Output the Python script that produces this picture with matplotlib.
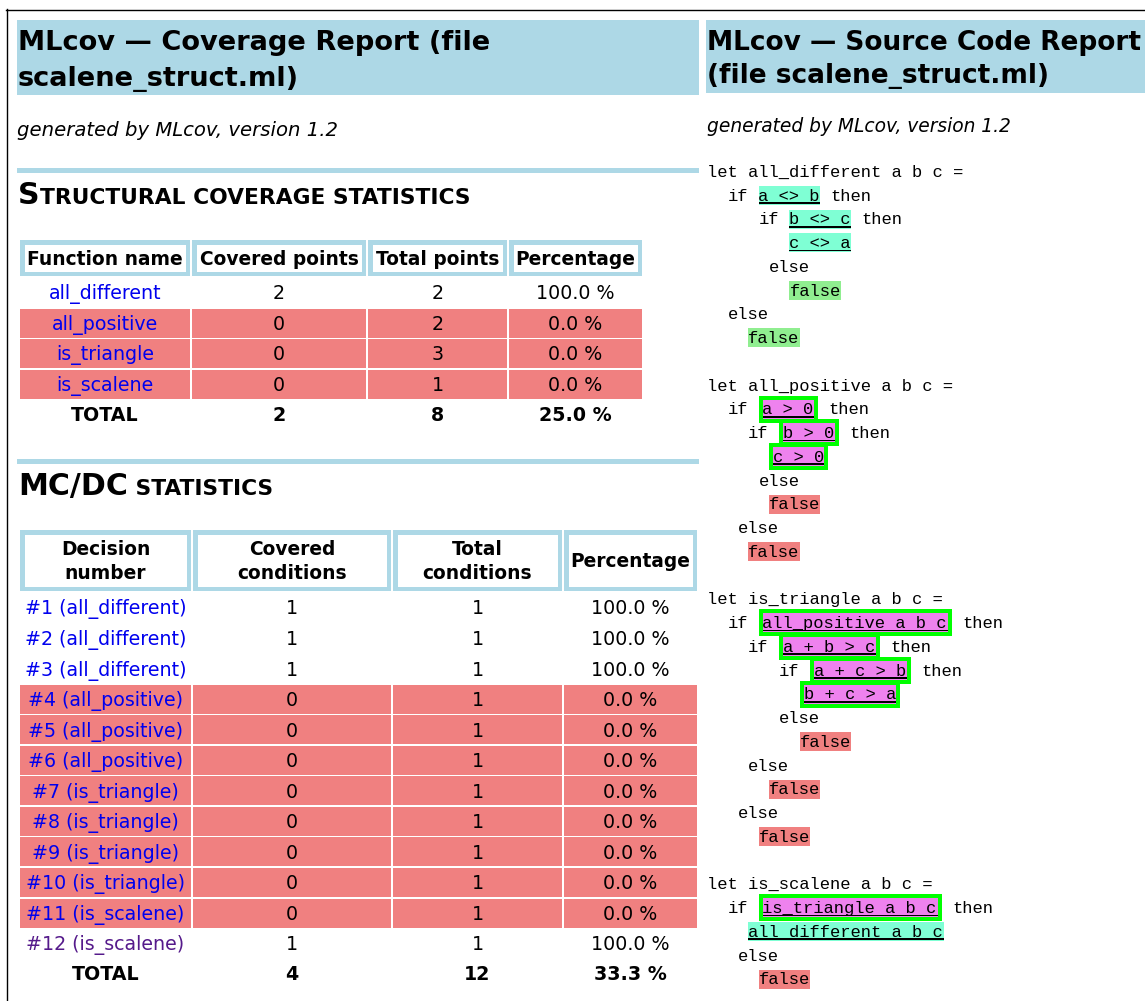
"""
MLcov coverage report page, redrawn with matplotlib (pixel coordinates).
"""

import matplotlib
matplotlib.use("Agg")
import matplotlib.pyplot as plt
from matplotlib.patches import Rectangle

# ---------------- data ----------------
func_names = ["all_different", "all_positive", "is_triangle", "is_scalene"]
covered_points = [2, 0, 0, 0]
total_points = [2, 2, 3, 1]
pct_points = [100.0, 0.0, 0.0, 0.0]
points_total = ["TOTAL", 2, 8, 25.0]

decision_labels = ["#1 (all_different)", "#2 (all_different)", "#3 (all_different)",
                   "#4 (all_positive)", "#5 (all_positive)", "#6 (all_positive)",
                   "#7 (is_triangle)", "#8 (is_triangle)", "#9 (is_triangle)",
                   "#10 (is_triangle)", "#11 (is_scalene)", "#12 (is_scalene)"]
covered_conditions = [1, 1, 1, 0, 0, 0, 0, 0, 0, 0, 0, 1]
total_conditions = [1, 1, 1, 1, 1, 1, 1, 1, 1, 1, 1, 1]
pct_conditions = [100.0, 100.0, 100.0, 0.0, 0.0, 0.0, 0.0, 0.0, 0.0, 0.0, 0.0, 100.0]
visited_links = [False] * 11 + [True]
conditions_total = ["TOTAL", 4, 12, 33.3]

t1_headers = [["Function name"], ["Covered points"], ["Total points"], ["Percentage"]]
t2_headers = [["Decision", "number"], ["Covered", "conditions"],
              ["Total", "conditions"], ["Percentage"]]

# source listing: (text, highlight kind)
code_lines = [
    [("let all_different a b c =", None)],
    [("  if ", None), ("a <> b", "aqua"), (" then", None)],
    [("     if ", None), ("b <> c", "aqua"), (" then", None)],
    [("        ", None), ("c <> a", "aqua")],
    [("      else", None)],
    [("        ", None), ("false", "green")],
    [("  else", None)],
    [("    ", None), ("false", "green")],
    [],
    [("let all_positive a b c =", None)],
    [("  if ", None), ("a > 0", "box"), (" then", None)],
    [("    if ", None), ("b > 0", "box"), (" then", None)],
    [("      ", None), ("c > 0", "box")],
    [("     else", None)],
    [("      ", None), ("false", "red")],
    [("   else", None)],
    [("    ", None), ("false", "red")],
    [],
    [("let is_triangle a b c =", None)],
    [("  if ", None), ("all_positive a b c", "box"), (" then", None)],
    [("    if ", None), ("a + b > c", "box"), (" then", None)],
    [("       if ", None), ("a + c > b", "box"), (" then", None)],
    [("         ", None), ("b + c > a", "box")],
    [("       else", None)],
    [("         ", None), ("false", "red")],
    [("    else", None)],
    [("      ", None), ("false", "red")],
    [("   else", None)],
    [("     ", None), ("false", "red")],
    [],
    [("let is_scalene a b c =", None)],
    [("  if ", None), ("is_triangle a b c", "box"), (" then", None)],
    [("    ", None), ("all_different a b c", "aqua")],
    [("   else", None)],
    [("     ", None), ("false", "red")],
]

# ---------------- style ----------------
LIGHTBLUE = "#ADD8E6"
CORAL = "#F08080"
AQUA = "#7FFFD4"
LGREEN = "#90EE90"
VIOLET = "#EE82EE"
LIME = "#00FF00"
LINK = "#0000EE"
VISITED = "#551A8B"
SANS = "DejaVu Sans"
MONO = "Liberation Mono"
PX = 72 / 100  # px -> pt

W, H = 1145, 1001
fig = plt.figure(figsize=(W / 100, H / 100), dpi=100)
ax = fig.add_axes([0, 0, 1, 1])
ax.set_xlim(0, W)
ax.set_ylim(H, 0)
ax.axis("off")


def txt(x, yc, s, px, ha="left", weight="normal", style="normal",
        color="black", family=SANS, cap=0.73, **kw):
    # yc is the visual centre of the capitals
    return ax.text(x, yc + cap * px / 2, s, fontsize=px * PX, ha=ha, va="baseline",
                   fontweight=weight, fontstyle=style, color=color,
                   family=family, **kw)


def rect(x0, y0, x1, y1, color):
    ax.add_patch(Rectangle((x0, y0), x1 - x0, y1 - y0, facecolor=color,
                           edgecolor="none", lw=0))


# frame borders
ax.plot([6, W], [9.5, 9.5], color="black", lw=1)
ax.plot([6.5, 6.5], [9, H], color="black", lw=1)

# ---------------- left frame ----------------
rect(17, 20, 699, 95, LIGHTBLUE)
txt(18, 40, "MLcov \u2014 Coverage Report (file", 27.2, weight="bold")
txt(18, 76, "scalene_struct.ml)", 27.2, weight="bold")
txt(17, 129, "generated by MLcov, version 1.2", 19.6, style="italic")

rect(17, 168, 699, 173, LIGHTBLUE)
rect(17, 459, 699, 464, LIGHTBLUE)


def small_caps(x, yc, big, small, big_px, small_px):
    t = txt(x, yc, big, big_px, weight="bold")
    fig.canvas.draw()
    bb = t.get_window_extent()
    txt(bb.x1 + 0.5, yc + (big_px - small_px) * 0.73 / 2, small, small_px, weight="bold")


small_caps(18, 193, "S", "TRUCTURAL COVERAGE STATISTICS", 30, 21.8)
small_caps(18, 484, "MC/DC", " STATISTICS", 30, 21.8)


def header_cells(cols, y0, y1, labels, px):
    for (x0, x1), lines in zip(cols, labels):
        rect(x0, y0, x1, y1, LIGHTBLUE)
        rect(x0 + 4.5, y0 + 4.5, x1 - 4.5, y1 - 4.5, "white")
        ymid = (y0 + y1) / 2
        for k, line in enumerate(lines):
            yc = ymid + (k - (len(lines) - 1) / 2) * 24
            txt((x0 + x1) / 2, yc, line, px, ha="center", weight="bold")


def body_rows(cols, yfirst, pitch, first_col, col2, col3, pcts, link_colors):
    for i, (lab, c, t, p, lc) in enumerate(zip(first_col, col2, col3, pcts, link_colors)):
        yc = yfirst + i * pitch
        if p < 100:
            for x0, x1 in cols:
                rect(x0, yc - 14.5, x1, yc + 14.5, CORAL)
        vals = [lab, str(c), str(t), "%.1f %%" % p]
        for (x0, x1), v, colr in zip(cols, vals, [lc, "black", "black", "black"]):
            txt((x0 + x1) / 2, yc, v, 19, ha="center", color=colr)


def total_row(cols, yc, row):
    vals = [row[0], str(row[1]), str(row[2]), "%.1f %%" % row[3]]
    for (x0, x1), v in zip(cols, vals):
        txt((x0 + x1) / 2, yc, v, 19, ha="center", weight="bold")


# structural coverage table
t1_cols = [(20, 190), (192, 366), (368, 507), (509, 642)]
header_cells(t1_cols, 240, 276, t1_headers, 18.7)
body_rows(t1_cols, 292.5, 30.5, func_names, covered_points, total_points, pct_points,
          [LINK] * len(func_names))
total_row(t1_cols, 414.5, points_total)

# MC/DC table
t2_cols = [(20, 191), (193, 391), (393, 562), (564, 697)]
header_cells(t2_cols, 530, 591, t2_headers, 18.7)
body_rows(t2_cols, 607.5, 30.55, decision_labels, covered_conditions, total_conditions,
          pct_conditions, [VISITED if v else LINK for v in visited_links])
total_row(t2_cols, 973.5, conditions_total)

# ---------------- right frame ----------------
rect(706, 20, W, 93, LIGHTBLUE)
txt(707, 40, "MLcov \u2014 Source Code Report", 26.4, weight="bold")
txt(707, 73, "(file scalene_struct.ml)", 26.4, weight="bold")
txt(707, 125, "generated by MLcov, version 1.2", 18.7, style="italic")

CODE_X, CODE_Y, PITCH, CW = 707, 171.5, 23.75, 10.3
MONO_PX = CW / 0.6
BG = {"aqua": AQUA, "green": LGREEN, "red": CORAL, "box": VIOLET}

for i, segs in enumerate(code_lines):
    yc = CODE_Y + i * PITCH
    x = CODE_X
    for text, kind in segs:
        if kind is None:
            lead = len(text) - len(text.lstrip(" "))
            if text.strip():
                txt(x + lead * CW, yc, text.strip(), MONO_PX, family=MONO, cap=0.62)
            x += len(text) * CW
            continue
        w = len(text) * CW
        if kind == "box":
            rect(x, yc - 13.5, x + w + 8, yc + 13.5, LIME)
            x += 4
        rect(x, yc - 9.5, x + w, yc + 9.5, BG[kind])
        txt(x, yc, text, MONO_PX, family=MONO, cap=0.62)
        if kind in ("aqua", "box"):
            rect(x, yc + 6.8, x + w, yc + 8.6, "black")
        x += w + (4 if kind == "box" else 0)

fig.savefig("out.png", dpi=100)
